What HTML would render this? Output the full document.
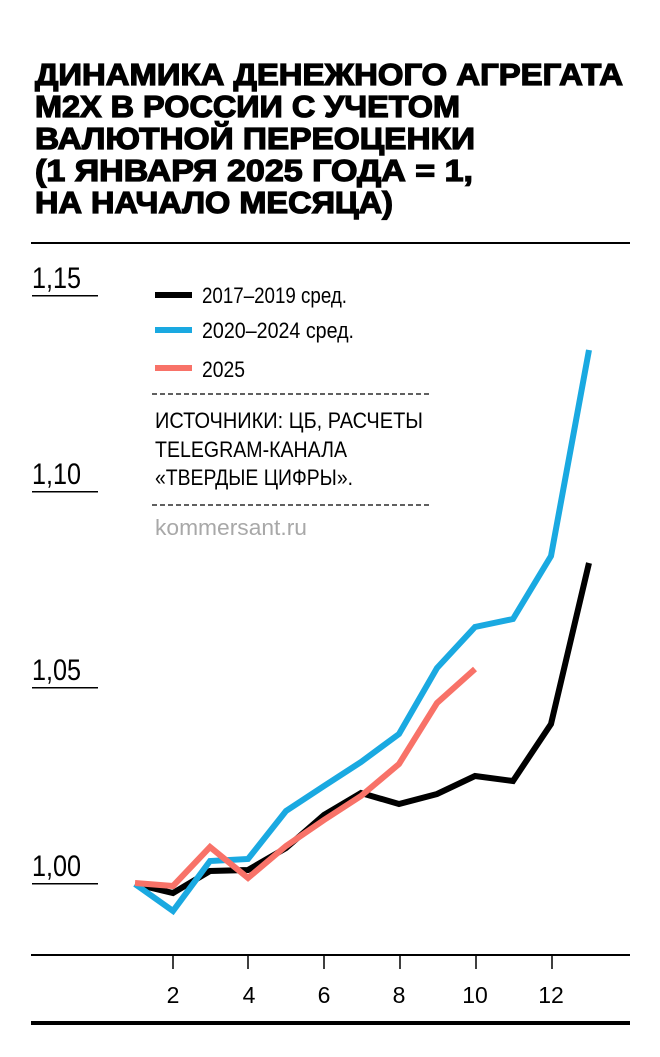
<!DOCTYPE html>
<html><head><meta charset="utf-8"><style>
html,body{margin:0;padding:0;background:#fff;}
svg{display:block;}
text{font-family:"Liberation Sans Narrow","Liberation Sans",sans-serif;}
.t{font-family:"Liberation Sans",sans-serif;font-weight:bold;font-size:31px;stroke:#000;stroke-width:1.3px;}
</style></head><body>
<svg width="660" height="1057" viewBox="0 0 660 1057" xmlns="http://www.w3.org/2000/svg">
<g fill="#000">
<text class="t" x="35" y="85" textLength="588" lengthAdjust="spacingAndGlyphs">ДИНАМИКА ДЕНЕЖНОГО АГРЕГАТА</text>
<text class="t" x="35" y="117" textLength="425" lengthAdjust="spacingAndGlyphs">M2X В РОССИИ С УЧЕТОМ</text>
<text class="t" x="35" y="149" textLength="440" lengthAdjust="spacingAndGlyphs">ВАЛЮТНОЙ ПЕРЕОЦЕНКИ</text>
<text class="t" x="35" y="181" textLength="438" lengthAdjust="spacingAndGlyphs">(1 ЯНВАРЯ 2025 ГОДА = 1,</text>
<text class="t" x="35" y="213" textLength="358" lengthAdjust="spacingAndGlyphs">НА НАЧАЛО МЕСЯЦА)</text>
</g>
<rect x="31" y="242" width="599" height="2" fill="#000"/>
<g font-size="30" fill="#000">
<text x="32" y="288" textLength="49" lengthAdjust="spacingAndGlyphs">1,15</text>
<text x="32" y="484" textLength="49" lengthAdjust="spacingAndGlyphs">1,10</text>
<text x="32" y="680" textLength="49" lengthAdjust="spacingAndGlyphs">1,05</text>
<text x="32" y="876" textLength="49" lengthAdjust="spacingAndGlyphs">1,00</text>
</g>
<g fill="#000">
<rect x="32" y="295" width="66" height="1.5"/>
<rect x="32" y="491" width="66" height="1.5"/>
<rect x="32" y="687" width="66" height="1.5"/>
<rect x="32" y="883" width="66" height="1.5"/>
<rect x="31" y="954" width="599" height="2"/>
<rect x="31" y="1021" width="599" height="4"/>
</g>
<g stroke="#000" stroke-width="1.5">
<line x1="173" y1="955" x2="173" y2="969"/><line x1="248" y1="955" x2="248" y2="969"/>
<line x1="324" y1="955" x2="324" y2="969"/><line x1="400" y1="955" x2="400" y2="969"/>
<line x1="476" y1="955" x2="476" y2="969"/><line x1="552" y1="955" x2="552" y2="969"/>
</g>
<g font-size="23" fill="#000" text-anchor="middle">
<text x="173" y="1003">2</text><text x="249" y="1003">4</text><text x="324" y="1003">6</text>
<text x="399" y="1003">8</text><text x="475" y="1003">10</text><text x="551" y="1003">12</text>
</g>
<rect x="155" y="292" width="37" height="6" fill="#000"/>
<rect x="155" y="327" width="37" height="6" fill="#1aa9e1"/>
<rect x="155" y="365" width="37" height="6" fill="#f87268"/>
<g font-size="22" fill="#000">
<text x="202" y="303" textLength="145" lengthAdjust="spacingAndGlyphs">2017–2019 сред.</text>
<text x="202" y="338" textLength="152" lengthAdjust="spacingAndGlyphs">2020–2024 сред.</text>
<text x="202" y="377" textLength="43" lengthAdjust="spacingAndGlyphs">2025</text>
<text x="155" y="428" textLength="268" lengthAdjust="spacingAndGlyphs">ИСТОЧНИКИ: ЦБ, РАСЧЕТЫ</text>
<text x="155" y="457" textLength="192" lengthAdjust="spacingAndGlyphs">TELEGRAM-КАНАЛА</text>
<text x="155" y="485" textLength="198" lengthAdjust="spacingAndGlyphs">«ТВЕРДЫЕ ЦИФРЫ».</text>
<text x="155" y="535" fill="#a8a8a8" textLength="152" lengthAdjust="spacingAndGlyphs">kommersant.ru</text>
</g>
<g stroke="#000" stroke-width="1.3" stroke-dasharray="5,3">
<line x1="152" y1="394" x2="430" y2="394"/>
<line x1="152" y1="505" x2="430" y2="505"/>
</g>
<g fill="none" stroke-width="6" stroke-linejoin="miter">
<polyline stroke="#000" points="135,884 173,893 210,871 248,870 286,848 324,815 361,793 399,804 437,794 475,776 513,781 551,724 589,563"/>
<polyline stroke="#1aa9e1" points="135,884 173,911 210,861 248,859 286,811 324,786 361,762 399,734 437,668 475,627 513,619 551,556 589,350"/>
<polyline stroke="#f87268" points="135,883 173,886 210,847 248,878 286,846 324,820 361,796 399,764 437,703 475,669"/>
</g>
</svg>
</body></html>
